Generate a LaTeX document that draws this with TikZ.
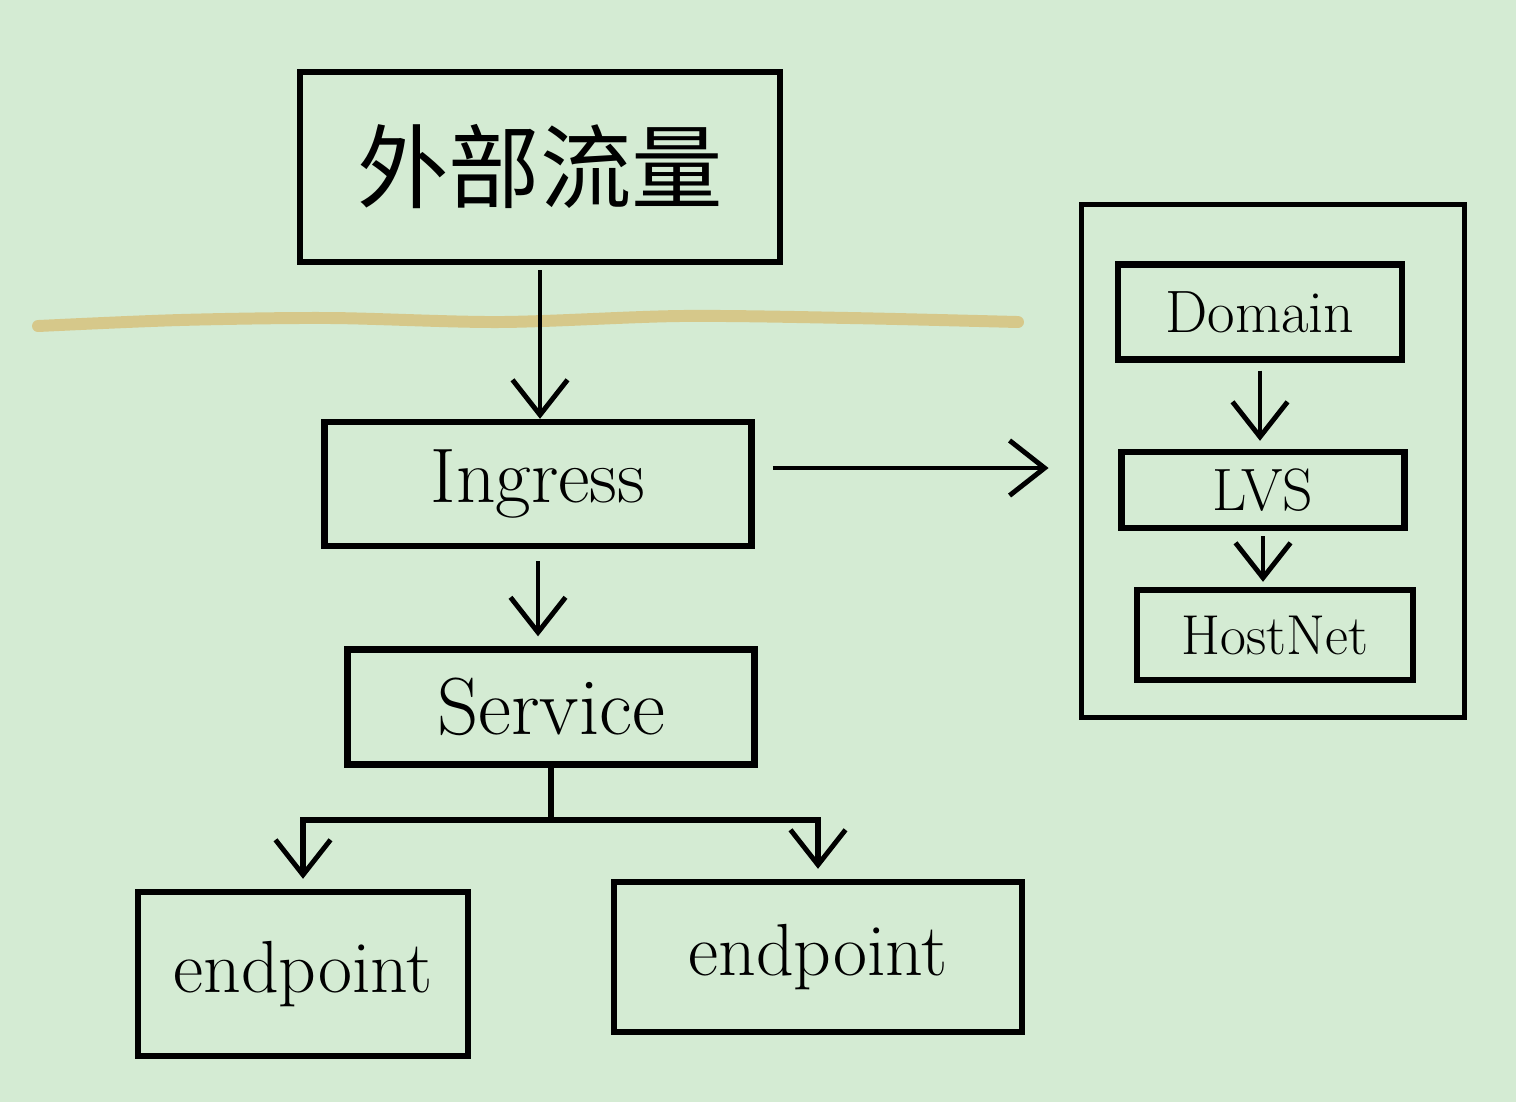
\documentclass[tikz,border=0pt]{standalone}
\usepackage{fontspec}
\usepackage{tikz}
\usetikzlibrary{arrows.meta}
\newfontfamily\cjk{Noto Sans CJK SC}
\definecolor{paper}{RGB}{212,235,211}
\definecolor{sand}{RGB}{214,200,138}
\tikzset{
	box/.style = {draw, line width=1.8pt, inner sep=0pt},
	arr/.style = {line width=1.3pt, -{Straight Barb[length=3.5mm,width=5.5mm,line width=1.4pt]}},
}

\begin{document}
\begin{tikzpicture}[x=0.01cm, y=-0.01cm]
	\fill[paper] (0,0) rectangle (1516,1102);
	\useasboundingbox (0,0) rectangle (1516,1102);
	% border line
	\draw[sand, line width=3.4pt, line cap=round] plot[smooth] coordinates {(38,326) (180,320) (330,318) (500,322) (680,316) (850,318) (1018,322)};
	% left column
	\node[box, minimum width=4.8cm, minimum height=1.9cm] (ext) at (540,167) {\cjk\fontsize{26}{30}\selectfont 外部流量};
	\node[box, minimum width=4.27cm, minimum height=1.24cm] (ing) at (538,484) {\fontsize{22}{26}\selectfont Ingress};
	\node[box, minimum width=4.07cm, minimum height=1.15cm] (svc) at (551,707) {\fontsize{23}{27}\selectfont Service};
	\node[box, minimum width=3.3cm, minimum height=1.64cm] (ep1) at (303,974) {\fontsize{21}{25}\selectfont endpoint};
	\node[box, minimum width=4.08cm, minimum height=1.5cm] (ep2) at (818,957) {\fontsize{21}{25}\selectfont endpoint};
	% right column
	\node[box, line width=1.6pt, minimum width=3.83cm, minimum height=5.13cm] (host) at (1273,461) {};
	\node[box, minimum width=2.84cm, minimum height=0.95cm] (dom) at (1260,312) {\fontsize{17}{20}\selectfont Domain};
	\node[box, minimum width=2.83cm, minimum height=0.76cm] (lvs) at (1263,490) {\fontsize{17}{20}\selectfont LVS};
	\node[box, minimum width=2.76cm, minimum height=0.9cm] (hn) at (1275,635) {\fontsize{16}{19}\selectfont HostNet};
	% connectors
	\draw[arr, shorten <=0.05cm] (ext.south) -- (ext.south |- ing.north);
	\draw[arr, shorten <=0.18cm, shorten >=0.3cm] ([yshift=0.16cm]ing.east) -- ([yshift=0.16cm]ing.east -| host.west);
	\draw[arr, shorten <=0.12cm, shorten >=0.1cm] (ing.south) -- (ing.south |- svc.north);
	\draw[line width=1.8pt] (svc.south) -- ++(0,52) coordinate (br);
	\draw[arr, line width=1.8pt, shorten >=0.1cm] (br) -| (ep1.north);
	\draw[arr, line width=1.8pt, shorten >=0.1cm] (br) -| (ep2.north);
	\draw[arr, shorten <=0.08cm, shorten >=0.08cm] (dom.south) -- (dom.south |- lvs.north);
	\draw[arr, shorten <=0.05cm, shorten >=0.05cm] (lvs.south) -- (lvs.south |- hn.north);
\end{tikzpicture}
\end{document}
